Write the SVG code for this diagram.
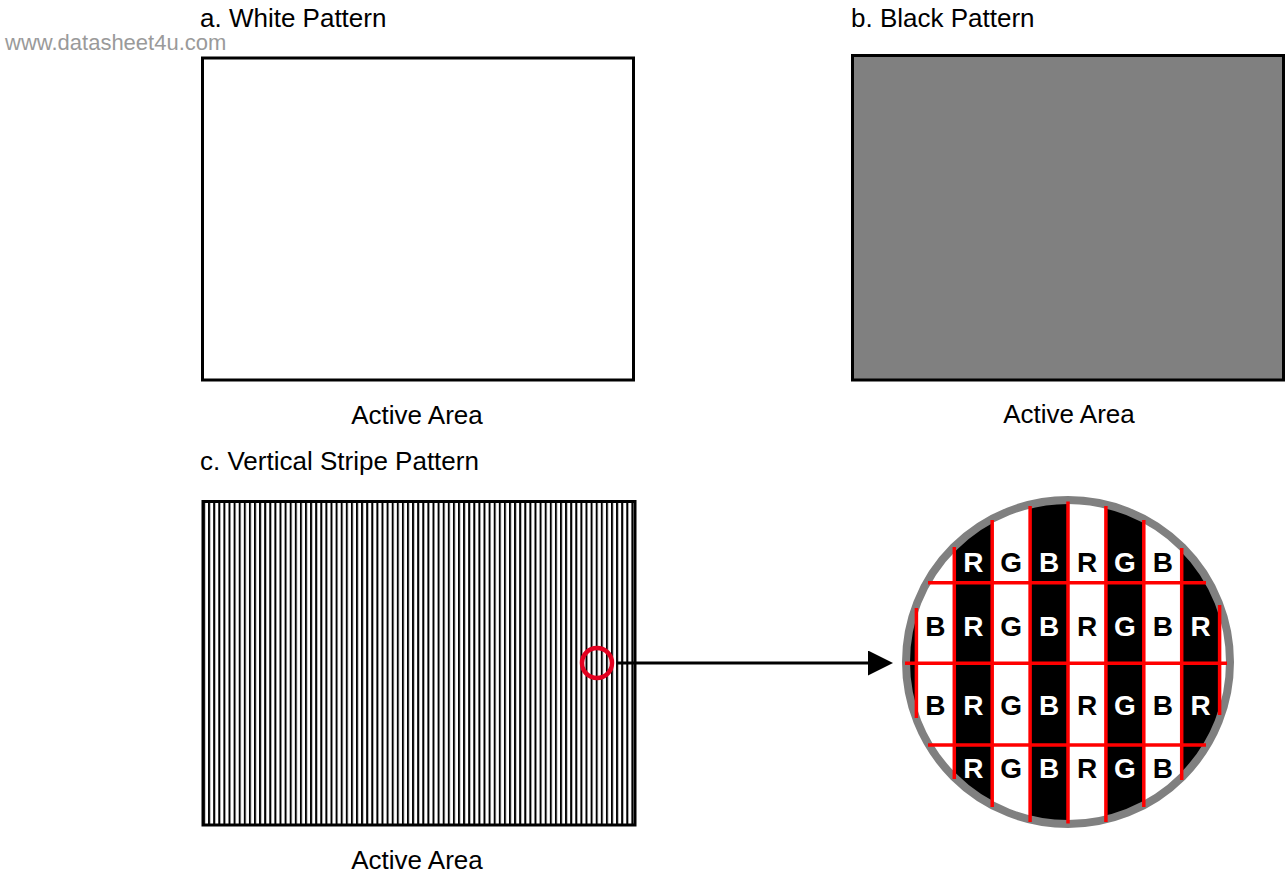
<svg xmlns="http://www.w3.org/2000/svg" width="1285" height="876" viewBox="0 0 1285 876">
<style>
.lbl{font-family:"Liberation Sans",Arial,sans-serif;font-size:26px;fill:#000}
.wm{font-family:"Liberation Sans",Arial,sans-serif;font-size:22px;fill:#9a9a9a}
.box{stroke:#000;stroke-width:3}
.rl{stroke:#ff0000;stroke-width:3.5;fill:none}
.lt{font-family:"Liberation Sans",Arial,sans-serif;font-size:28px;font-weight:bold;text-anchor:middle}
.w{fill:#fff}
.k{fill:#000}
</style>
<defs>
<pattern id="stripes" x="203" y="0" width="5.1" height="10" patternUnits="userSpaceOnUse">
<rect x="0" y="0" width="2" height="10" fill="#000"/>
</pattern>
<clipPath id="cc"><circle cx="1068" cy="662" r="160"/></clipPath>
<marker id="ah" markerUnits="userSpaceOnUse" viewBox="0 0 25 25" markerWidth="25" markerHeight="25" refX="1" refY="12.5" orient="auto">
<path d="M0,0 L25,12.5 L0,25 z" fill="#000"/>
</marker>
</defs>
<rect width="1285" height="876" fill="#fff"/>
<text class="wm" x="5" y="50">www.datasheet4u.com</text>

<g id="white-pattern">
<text class="lbl" x="200" y="27">a. White Pattern</text>
<rect class="box" x="202.5" y="58" width="431" height="322" fill="#fff"/>
<text class="lbl" x="417" y="424" text-anchor="middle">Active Area</text>
</g>

<g id="black-pattern">
<text class="lbl" x="851" y="27">b. Black Pattern</text>
<rect class="box" x="852.5" y="55.5" width="431" height="324.5" fill="#808080"/>
<text class="lbl" x="1069" y="423" text-anchor="middle">Active Area</text>
</g>

<g id="stripe-pattern">
<text class="lbl" x="200" y="470">c. Vertical Stripe Pattern</text>
<rect x="203" y="501.5" width="432" height="323.5" fill="url(#stripes)"/>
<rect class="box" x="203" y="501.5" width="432" height="323.5" fill="none"/>
<circle cx="597" cy="663" r="15" fill="none" stroke="#e3001f" stroke-width="4.5"/>
<text class="lbl" x="417" y="869" text-anchor="middle">Active Area</text>
</g>

<g id="connectors">
<line x1="617" y1="663" x2="869" y2="663" stroke="#000" stroke-width="3" marker-end="url(#ah)"/>
</g>

<g id="magnified">
<g clip-path="url(#cc)">
<rect x="900" y="495" width="336" height="335" fill="#fff"/>
<rect x="900" y="495" width="16.4" height="335" fill="#000"/>
<rect x="954.3" y="495" width="37.9" height="335" fill="#000"/>
<rect x="1030.1" y="495" width="37.9" height="335" fill="#000"/>
<rect x="1105.9" y="495" width="37.9" height="335" fill="#000"/>
<rect x="1181.7" y="495" width="37.9" height="335" fill="#000"/>
</g>
<circle cx="1068" cy="662" r="162" fill="none" stroke="#808080" stroke-width="8"/>
<g>
<line class="rl" x1="928" y1="582.7" x2="1206" y2="582.7"/>
<line class="rl" x1="905" y1="663.3" x2="1227" y2="663.3"/>
<line class="rl" x1="928" y1="745" x2="1206" y2="745"/>
<line class="rl" x1="916.4" y1="608" x2="916.4" y2="718"/>
<line class="rl" x1="954.3" y1="547" x2="954.3" y2="779"/>
<line class="rl" x1="992.2" y1="520" x2="992.2" y2="807"/>
<line class="rl" x1="1030.1" y1="506" x2="1030.1" y2="822"/>
<line class="rl" x1="1068" y1="501.5" x2="1068" y2="823.5"/>
<line class="rl" x1="1105.9" y1="506" x2="1105.9" y2="822"/>
<line class="rl" x1="1143.8" y1="520" x2="1143.8" y2="807"/>
<line class="rl" x1="1181.7" y1="548" x2="1181.7" y2="780"/>
<line class="rl" x1="1219.6" y1="605" x2="1219.6" y2="715"/>
</g>
<g>
<text class="lt w" x="973.3" y="572">R</text>
<text class="lt k" x="1011.2" y="572">G</text>
<text class="lt w" x="1049.1" y="572">B</text>
<text class="lt k" x="1087" y="572">R</text>
<text class="lt w" x="1124.9" y="572">G</text>
<text class="lt k" x="1162.8" y="572">B</text>

<text class="lt k" x="935.4" y="636">B</text>
<text class="lt w" x="973.3" y="636">R</text>
<text class="lt k" x="1011.2" y="636">G</text>
<text class="lt w" x="1049.1" y="636">B</text>
<text class="lt k" x="1087" y="636">R</text>
<text class="lt w" x="1124.9" y="636">G</text>
<text class="lt k" x="1162.8" y="636">B</text>
<text class="lt w" x="1200.7" y="636">R</text>

<text class="lt k" x="935.4" y="715">B</text>
<text class="lt w" x="973.3" y="715">R</text>
<text class="lt k" x="1011.2" y="715">G</text>
<text class="lt w" x="1049.1" y="715">B</text>
<text class="lt k" x="1087" y="715">R</text>
<text class="lt w" x="1124.9" y="715">G</text>
<text class="lt k" x="1162.8" y="715">B</text>
<text class="lt w" x="1200.7" y="715">R</text>

<text class="lt w" x="973.3" y="778">R</text>
<text class="lt k" x="1011.2" y="778">G</text>
<text class="lt w" x="1049.1" y="778">B</text>
<text class="lt k" x="1087" y="778">R</text>
<text class="lt w" x="1124.9" y="778">G</text>
<text class="lt k" x="1162.8" y="778">B</text>
</g>
</g>
</svg>
